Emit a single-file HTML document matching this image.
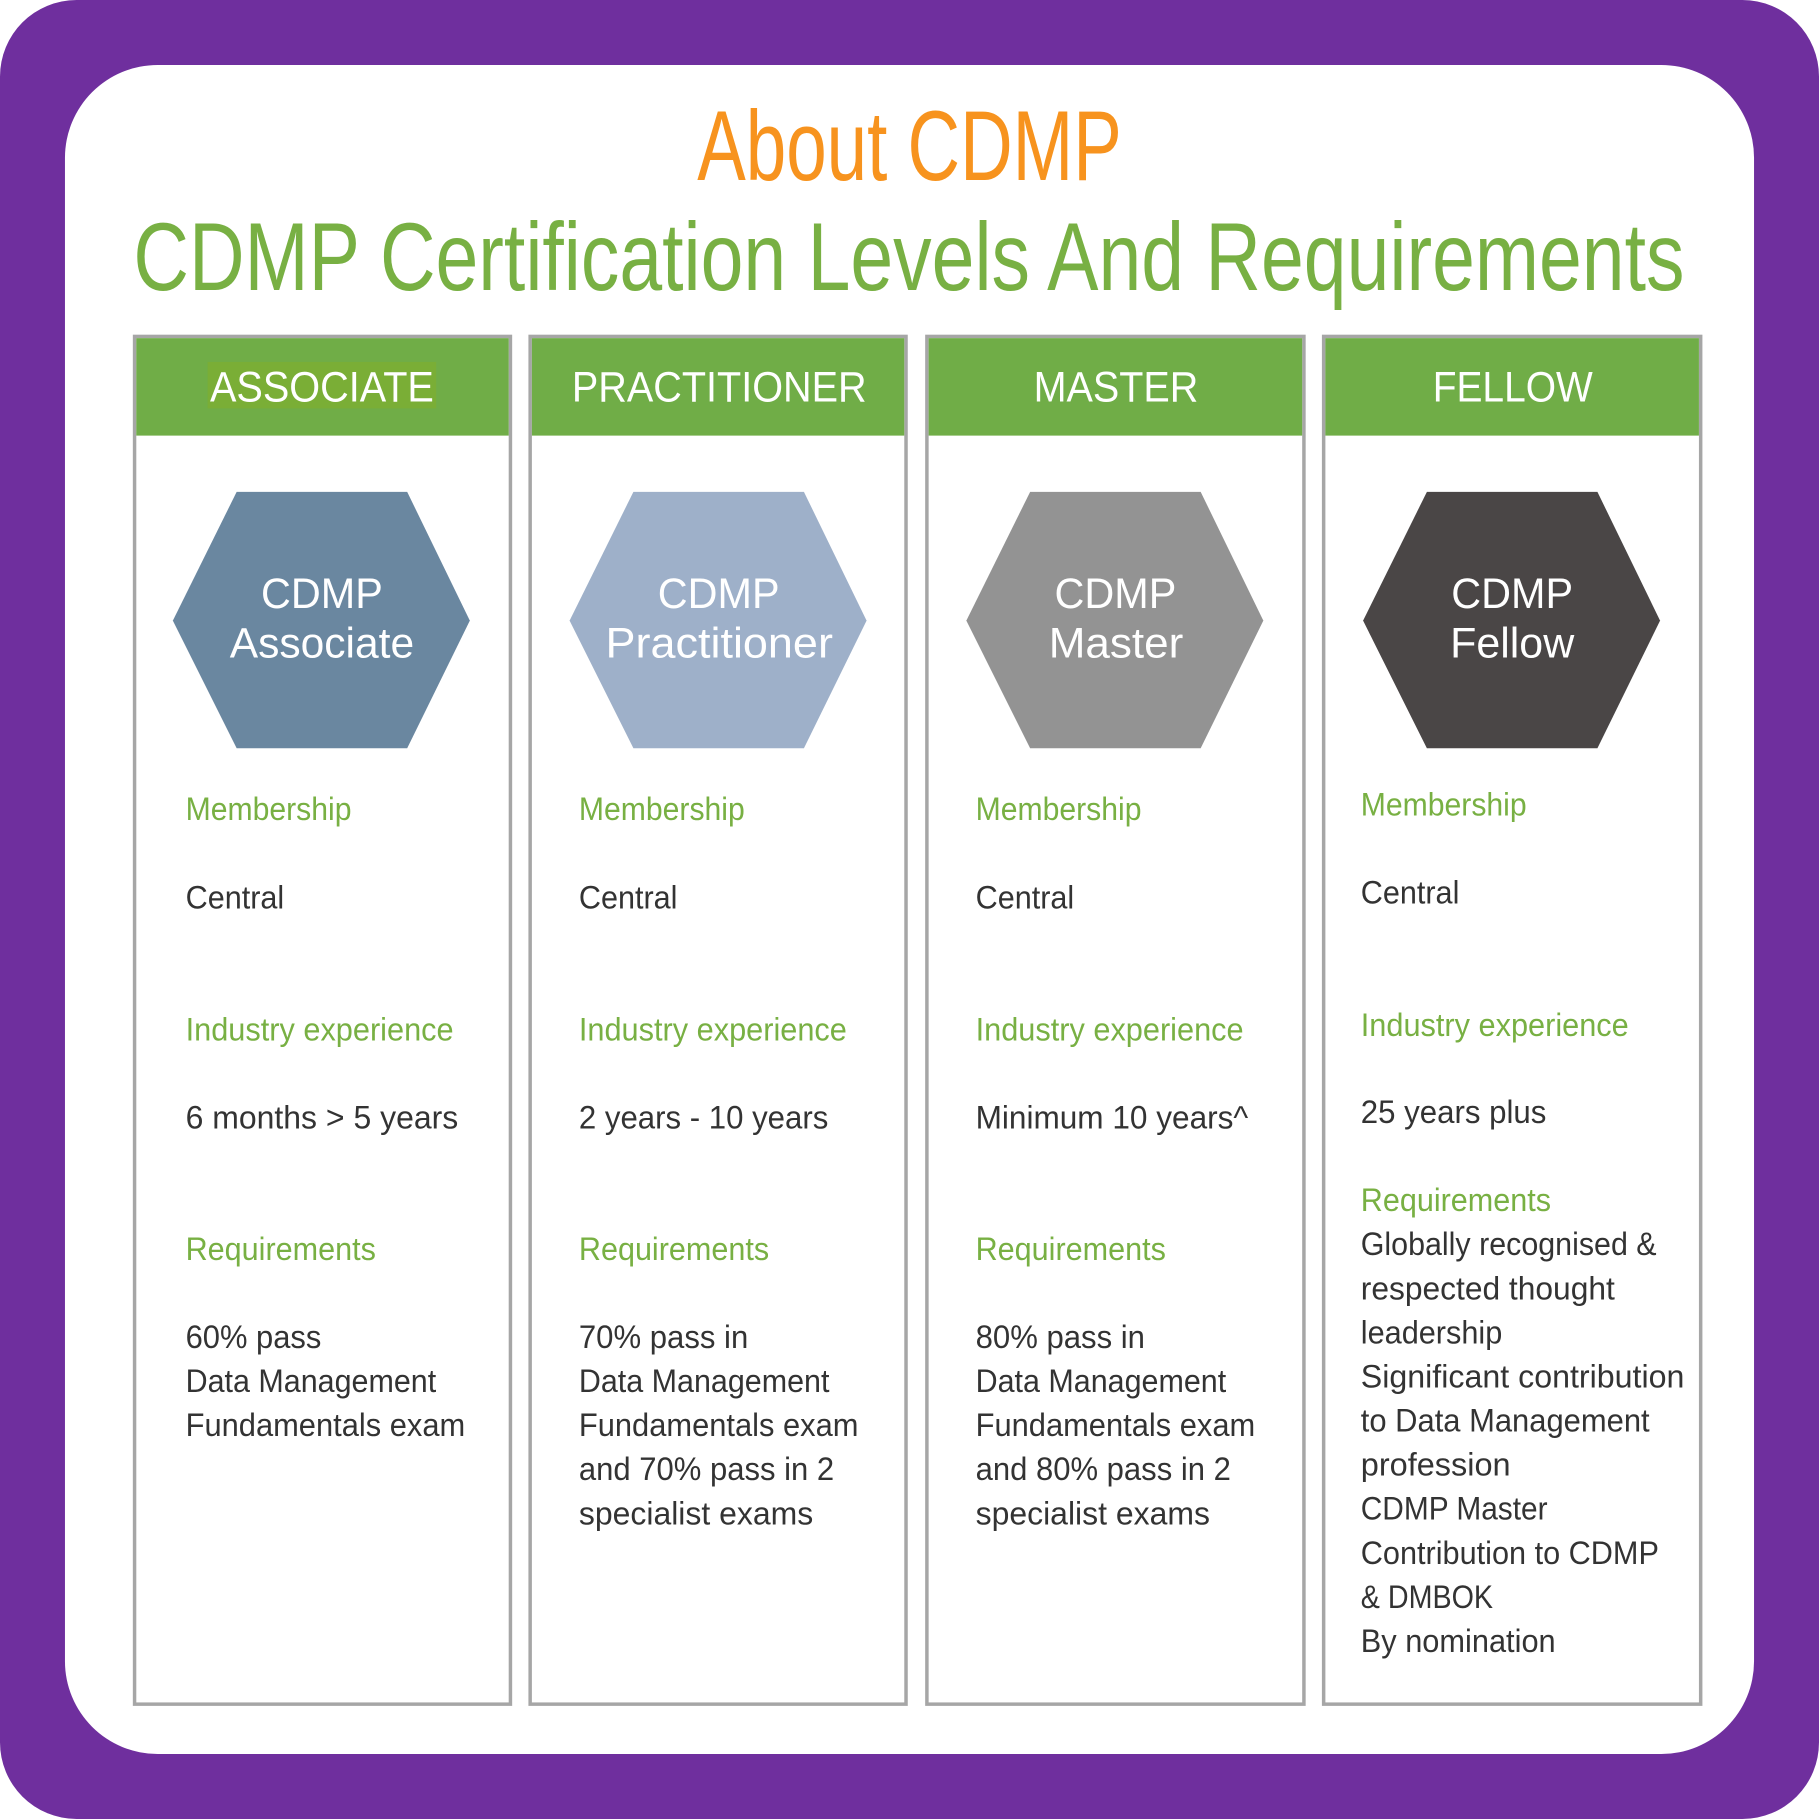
<!DOCTYPE html>
<html><head><meta charset="utf-8"><style>
html,body{margin:0;padding:0;background:#fff;}
svg{display:block;}
text{font-family:"Liberation Sans Narrow","Liberation Sans",sans-serif;}
.h{font-family:"Liberation Sans",sans-serif;fill:#fff;font-size:37px;}
.x{font-family:"Liberation Sans",sans-serif;fill:#fff;font-size:37px;}
.g{fill:#78b043;font-size:28px;}
.b{fill:#333;font-size:28px;}
</style></head><body>
<svg width="1819" height="1819" viewBox="0 0 1568 1568" xmlns="http://www.w3.org/2000/svg">
<rect x="0" y="0" width="1568" height="1568" rx="66" fill="#6f2f9e"/>
<rect x="56" y="56" width="1456" height="1456" rx="80" fill="#fff"/>
<text x="601" y="155" font-size="86" fill="#f7931e" textLength="366" lengthAdjust="spacingAndGlyphs">About CDMP</text>
<text x="115" y="250" font-size="83" fill="#78b043" textLength="1337" lengthAdjust="spacingAndGlyphs">CDMP Certification Levels And Requirements</text>

<g fill="#fff" stroke="#a6a6a6" stroke-width="3">
<rect x="116" y="290" width="324" height="1179"/>
<rect x="457" y="290" width="324" height="1179"/>
<rect x="799" y="290" width="325" height="1179"/>
<rect x="1141" y="290" width="325" height="1179"/>
</g>
<g fill="#70ad47">
<rect x="117.5" y="291.5" width="321" height="84"/>
<rect x="458.5" y="291.5" width="321" height="84"/>
<rect x="800.5" y="291.5" width="322" height="84"/>
<rect x="1142.5" y="291.5" width="322" height="84"/>
</g>
<rect x="179" y="312" width="197" height="40" fill="#7aae36"/>
<text class="h" x="181" y="346" textLength="193" lengthAdjust="spacingAndGlyphs">ASSOCIATE</text>
<text class="h" x="493" y="346" textLength="254" lengthAdjust="spacingAndGlyphs">PRACTITIONER</text>
<text class="h" x="891" y="346" textLength="142" lengthAdjust="spacingAndGlyphs">MASTER</text>
<text class="h" x="1235" y="346" textLength="138" lengthAdjust="spacingAndGlyphs">FELLOW</text>

<polygon points="204,424 351,424 405,535 351,645 204,645 149,535" fill="#6a87a0"/>
<polygon points="546,424 693,424 747,535 693,645 546,645 491,535" fill="#9eb0c9"/>
<polygon points="888,424 1035,424 1089,535 1035,645 888,645 833,535" fill="#939393"/>
<polygon points="1230,424 1377,424 1431,535 1377,645 1230,645 1175,535" fill="#4a4646"/>
<text class="x" x="225" y="524" textLength="105" lengthAdjust="spacingAndGlyphs">CDMP</text>
<text class="x" x="198" y="567" textLength="159" lengthAdjust="spacingAndGlyphs">Associate</text>
<text class="x" x="567" y="524" textLength="105" lengthAdjust="spacingAndGlyphs">CDMP</text>
<text class="x" x="522" y="567" textLength="196" lengthAdjust="spacingAndGlyphs">Practitioner</text>
<text class="x" x="909" y="524" textLength="105" lengthAdjust="spacingAndGlyphs">CDMP</text>
<text class="x" x="904" y="567" textLength="116" lengthAdjust="spacingAndGlyphs">Master</text>
<text class="x" x="1251" y="524" textLength="105" lengthAdjust="spacingAndGlyphs">CDMP</text>
<text class="x" x="1250" y="567" textLength="107" lengthAdjust="spacingAndGlyphs">Fellow</text>

<!-- Associate -->
<text class="g" x="160" y="707" textLength="143" lengthAdjust="spacingAndGlyphs">Membership</text>
<text class="b" x="160" y="783" textLength="85" lengthAdjust="spacingAndGlyphs">Central</text>
<text class="g" x="160" y="897" textLength="231" lengthAdjust="spacingAndGlyphs">Industry experience</text>
<text class="b" x="160" y="973" textLength="235" lengthAdjust="spacingAndGlyphs">6 months &gt; 5 years</text>
<text class="g" x="160" y="1086" textLength="164" lengthAdjust="spacingAndGlyphs">Requirements</text>
<text class="b" x="160" y="1162" textLength="117" lengthAdjust="spacingAndGlyphs">60% pass</text>
<text class="b" x="160" y="1200" textLength="216" lengthAdjust="spacingAndGlyphs">Data Management</text>
<text class="b" x="160" y="1238" textLength="241" lengthAdjust="spacingAndGlyphs">Fundamentals exam</text>

<!-- Practitioner -->
<text class="g" x="499" y="707" textLength="143" lengthAdjust="spacingAndGlyphs">Membership</text>
<text class="b" x="499" y="783" textLength="85" lengthAdjust="spacingAndGlyphs">Central</text>
<text class="g" x="499" y="897" textLength="231" lengthAdjust="spacingAndGlyphs">Industry experience</text>
<text class="b" x="499" y="973" textLength="215" lengthAdjust="spacingAndGlyphs">2 years - 10 years</text>
<text class="g" x="499" y="1086" textLength="164" lengthAdjust="spacingAndGlyphs">Requirements</text>
<text class="b" x="499" y="1162" textLength="146" lengthAdjust="spacingAndGlyphs">70% pass in</text>
<text class="b" x="499" y="1200" textLength="216" lengthAdjust="spacingAndGlyphs">Data Management</text>
<text class="b" x="499" y="1238" textLength="241" lengthAdjust="spacingAndGlyphs">Fundamentals exam</text>
<text class="b" x="499" y="1276" textLength="220" lengthAdjust="spacingAndGlyphs">and 70% pass in 2</text>
<text class="b" x="499" y="1314" textLength="202" lengthAdjust="spacingAndGlyphs">specialist exams</text>

<!-- Master -->
<text class="g" x="841" y="707" textLength="143" lengthAdjust="spacingAndGlyphs">Membership</text>
<text class="b" x="841" y="783" textLength="85" lengthAdjust="spacingAndGlyphs">Central</text>
<text class="g" x="841" y="897" textLength="231" lengthAdjust="spacingAndGlyphs">Industry experience</text>
<text class="b" x="841" y="973" textLength="235" lengthAdjust="spacingAndGlyphs">Minimum 10 years^</text>
<text class="g" x="841" y="1086" textLength="164" lengthAdjust="spacingAndGlyphs">Requirements</text>
<text class="b" x="841" y="1162" textLength="146" lengthAdjust="spacingAndGlyphs">80% pass in</text>
<text class="b" x="841" y="1200" textLength="216" lengthAdjust="spacingAndGlyphs">Data Management</text>
<text class="b" x="841" y="1238" textLength="241" lengthAdjust="spacingAndGlyphs">Fundamentals exam</text>
<text class="b" x="841" y="1276" textLength="220" lengthAdjust="spacingAndGlyphs">and 80% pass in 2</text>
<text class="b" x="841" y="1314" textLength="202" lengthAdjust="spacingAndGlyphs">specialist exams</text>

<!-- Fellow -->
<text class="g" x="1173" y="703" textLength="143" lengthAdjust="spacingAndGlyphs">Membership</text>
<text class="b" x="1173" y="779" textLength="85" lengthAdjust="spacingAndGlyphs">Central</text>
<text class="g" x="1173" y="893" textLength="231" lengthAdjust="spacingAndGlyphs">Industry experience</text>
<text class="b" x="1173" y="968" textLength="160" lengthAdjust="spacingAndGlyphs">25 years plus</text>
<text class="g" x="1173" y="1044" textLength="164" lengthAdjust="spacingAndGlyphs">Requirements</text>
<text class="b" x="1173" y="1082" textLength="255" lengthAdjust="spacingAndGlyphs">Globally recognised &amp;</text>
<text class="b" x="1173" y="1120" textLength="219" lengthAdjust="spacingAndGlyphs">respected thought</text>
<text class="b" x="1173" y="1158" textLength="122" lengthAdjust="spacingAndGlyphs">leadership</text>
<text class="b" x="1173" y="1196" textLength="279" lengthAdjust="spacingAndGlyphs">Significant contribution</text>
<text class="b" x="1173" y="1234" textLength="249" lengthAdjust="spacingAndGlyphs">to Data Management</text>
<text class="b" x="1173" y="1272">profession</text>
<text class="b" x="1173" y="1310" textLength="161" lengthAdjust="spacingAndGlyphs">CDMP Master</text>
<text class="b" x="1173" y="1348" textLength="257" lengthAdjust="spacingAndGlyphs">Contribution to CDMP</text>
<text class="b" x="1173" y="1386" textLength="114" lengthAdjust="spacingAndGlyphs">&amp; DMBOK</text>
<text class="b" x="1173" y="1424" textLength="168" lengthAdjust="spacingAndGlyphs">By nomination</text>
</svg>
</body></html>
